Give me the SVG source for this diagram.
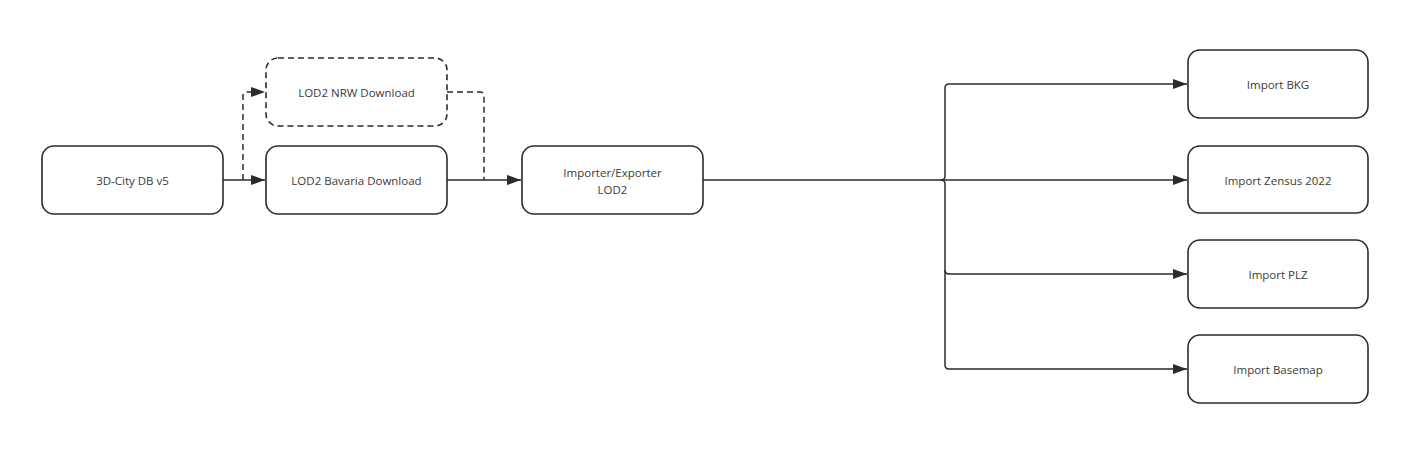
<svg xmlns="http://www.w3.org/2000/svg" width="1426" height="458" viewBox="0 0 1426 458">
<style>
.node rect{fill:#fff;stroke:#2b2b2b;stroke-width:1.6}
.node.dashed rect{stroke-dasharray:6 4}
.node text{font-family:"Open Sans","Noto Sans",sans-serif;font-size:11.5px;fill:#3a3a3a;text-anchor:middle;dominant-baseline:central}
.edge{fill:none;stroke:#2b2b2b;stroke-width:1.5}
.edge.dashed{stroke-dasharray:6 4}
</style>
<defs>
<marker id="arr" viewBox="0 0 14 10" refX="14" refY="5" markerWidth="14" markerHeight="10" markerUnits="userSpaceOnUse" orient="auto">
<path d="M0,0 L14,5 L0,10 z" fill="#2b2b2b"/>
</marker>
</defs>
<rect width="1426" height="458" fill="#fff"/>
<g id="connectors">
<path class="edge" d="M223,180 H265" marker-end="url(#arr)"/>
<path class="edge dashed" d="M243,180 V96 Q243,92 247,92 H265" marker-end="url(#arr)"/>
<path class="edge dashed" d="M447,92 H480 Q484,92 484,96 V180"/>
<path class="edge" d="M447,180 H521" marker-end="url(#arr)"/>
<path class="edge" d="M703,180 H941 Q945,180 945,176 V88 Q945,84 949,84 H1187" marker-end="url(#arr)"/>
<path class="edge" d="M941,180 H1187" marker-end="url(#arr)"/>
<path class="edge" d="M941,180 Q945,180 945,184 V270 Q945,274 949,274 H1187" marker-end="url(#arr)"/>
<path class="edge" d="M945,270 V365 Q945,369 949,369 H1187" marker-end="url(#arr)"/>
</g>
<g id="n-citydb" class="node"><rect x="42" y="146" width="181" height="68" rx="12"/><text x="132.5" y="180">3D-City DB v5</text></g>
<g id="n-nrw" class="node dashed"><rect x="266" y="58" width="181" height="68" rx="12"/><text x="356.5" y="92">LOD2 NRW Download</text></g>
<g id="n-bavaria" class="node"><rect x="266" y="146" width="181" height="68" rx="12"/><text x="356.5" y="180">LOD2 Bavaria Download</text></g>
<g id="n-importer" class="node"><rect x="522" y="146" width="181" height="68" rx="12"/><text x="612.5" y="172">Importer/Exporter</text><text x="612.5" y="189">LOD2</text></g>
<g id="n-bkg" class="node"><rect x="1188" y="50" width="180" height="68" rx="12"/><text x="1278" y="84">Import BKG</text></g>
<g id="n-zensus" class="node"><rect x="1188" y="146" width="180" height="67" rx="12"/><text x="1278" y="180">Import Zensus 2022</text></g>
<g id="n-plz" class="node"><rect x="1188" y="240" width="180" height="68" rx="12"/><text x="1278" y="274">Import PLZ</text></g>
<g id="n-basemap" class="node"><rect x="1188" y="335" width="180" height="68" rx="12"/><text x="1278" y="369">Import Basemap</text></g>
</svg>
